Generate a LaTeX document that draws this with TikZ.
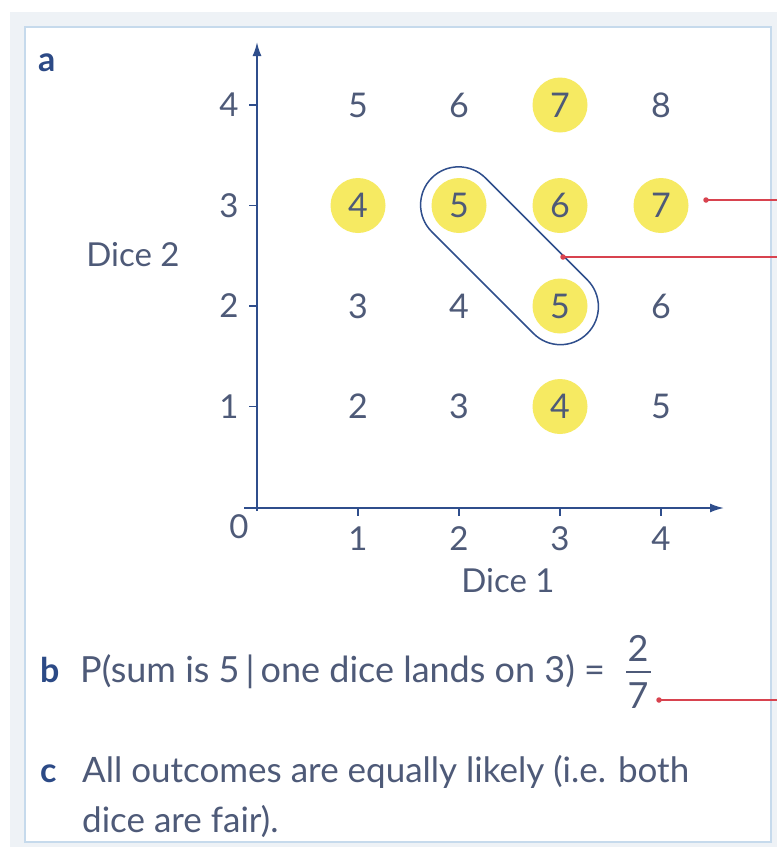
\documentclass[tikz,border=0pt]{standalone}
\usepackage{fontspec}
\setmainfont{Lato}
\usetikzlibrary{arrows.meta,shapes.misc,calc}
\definecolor{outergray}{HTML}{EEF2F6}
\definecolor{panelblue}{HTML}{C6DAEC}
\definecolor{axisblue}{HTML}{2F4E8C}
\definecolor{numgray}{HTML}{4E5A78}
\definecolor{hiyellow}{HTML}{F6EA62}
\definecolor{redline}{HTML}{D8434F}
\definecolor{letterblue}{HTML}{2C4A86}
\tikzset{
  num/.style={text=numgray,font=\fontsize{34}{38}\selectfont,inner sep=0pt},
  hinum/.style={num,fill=hiyellow,circle,minimum size=55pt},
  ticklab/.style={text=numgray,font=\fontsize{33}{38}\selectfont,inner sep=0pt},
  axis/.style={draw=axisblue,line width=1.8pt},
  tickmark/.style={draw=axisblue,line width=1.4pt},
  txt/.style={text=numgray,font=\fontsize{35}{40}\selectfont,inner sep=0pt,anchor=base west},
  txtb/.style={txt,font=\fontsize{36}{40}\selectfont},
  letter/.style={text=letterblue,font=\fontsize{34}{40}\selectfont\bfseries,inner sep=0pt,anchor=base west},
  pointer/.style={draw=redline,line width=1.3pt},
  dotmark/.style={fill=redline,circle,inner sep=0pt,minimum size=5.5pt},
}
\begin{document}
\begin{tikzpicture}[x=1pt,y=-1pt]
\useasboundingbox (0,0) rectangle (777,847);
% backgrounds
\fill[outergray] (10,12) rectangle (777,847);
\draw[panelblue,fill=white,line width=2pt] (25,27) rectangle (771,842);
% letter a
\node[letter] (la) at (38,71) {a};
% axes
\coordinate (yb) at (257,511);
\coordinate (yt) at (257,42);
\coordinate (xl) at (244,508);
\coordinate (xr) at (724,508);
\draw[axis,-{Latex[length=14pt,width=9pt]}] (yb) -- (yt);
\draw[axis,-{Latex[length=14pt,width=9pt]}] (xl) -- (xr);
% ticks and tick labels
\foreach \i in {1,...,4}{
  \coordinate (xt\i) at ({257+101*\i},508);
  \coordinate (xtb\i) at ({257+101*\i},516);
  \draw[tickmark] (xt\i) -- (xtb\i);
  \node[ticklab] (xlab\i) at ({257+101*\i},539) {\i};
  \coordinate (yt\i) at (257,{507-100.5*\i});
  \coordinate (ytl\i) at (249,{507-100.5*\i});
  \draw[tickmark] (yt\i) -- (ytl\i);
  \node[ticklab] (ylab\i) at (229,{507-100.5*\i}) {\i};
}
\node[ticklab] (orig) at (239,527) {0};
\node[ticklab] (dice1) at (508,581) {Dice 1};
\node[ticklab] (dice2) at (133,255) {Dice 2};
% grid of sums
\foreach \i in {1,...,4}{
  \foreach \j in {1,...,4}{
    \pgfmathtruncatemacro{\s}{\i+\j}
    \def\hl{0}
    \ifnum\i=3 \def\hl{1}\fi
    \ifnum\j=3 \def\hl{1}\fi
    \ifnum\hl=1
      \node[hinum] (g\i\j) at ({257+101*\i},{507-100.5*\j}) {\s};
    \else
      \node[num] (g\i\j) at ({257+101*\i},{507-100.5*\j}) {\s};
    \fi
  }
}
% loop around the two 5s
\node[draw=axisblue,line width=1.5pt,rounded rectangle,rotate=-45,
      minimum width=220pt,minimum height=76pt,inner sep=0pt] (loop)
      at ($(g23)!0.5!(g32)$) {};
% red pointers
\coordinate (d1) at (706,200);
\coordinate (e1) at (777,200);
\coordinate (d2) at (563,257);
\coordinate (e2) at (777,257);
\coordinate (d3) at (659,700);
\coordinate (e3) at (777,700);
\draw[pointer] (d1) -- (e1);
\draw[pointer] (d2) -- (e2);
\draw[pointer] (d3) -- (e3);
\node[dotmark] (dot1) at (d1) {};
\node[dotmark] (dot2) at (d2) {};
\node[dotmark] (dot3) at (d3) {};
% part b
\node[letter] (lb) at (40,682) {b};
\node[txtb] (tb) at (80,682) {P(sum is 5\,|\,one dice lands on 3) =};
\node[txtb,anchor=base] (two) at (638,661) {2};
\node[txtb,anchor=base] (seven) at (638,708) {7};
\draw[numgray,line width=1.5pt] (626,672) -- (651,672);
% part c
\node[letter] (lc) at (40,782) {c};
\node[txt] (tc1) at (82,782) {All outcomes are equally likely (i.e. both};
\node[txt] (tc2) at (82,832) {dice are fair).};
\end{tikzpicture}
\end{document}
